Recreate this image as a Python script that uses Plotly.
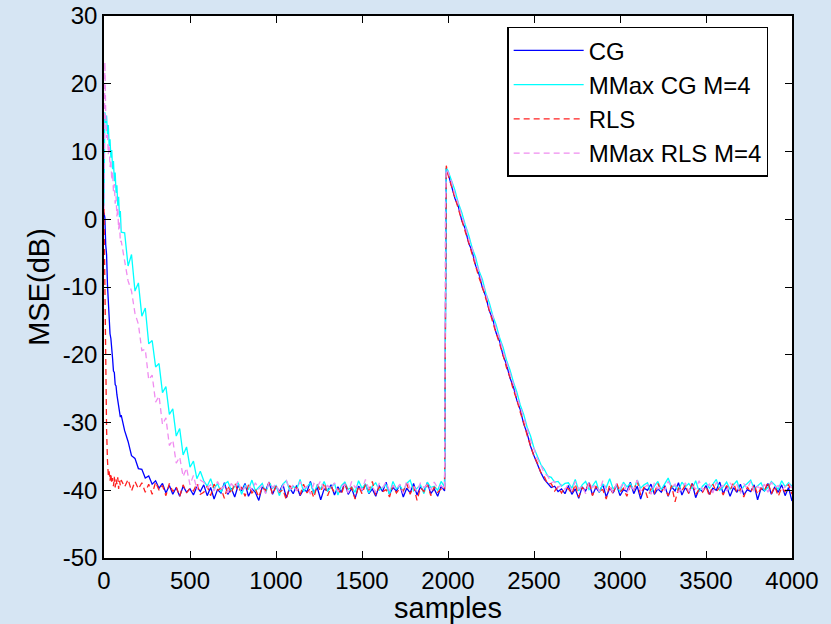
import plotly.graph_objects as go

# sample index grid (dense at the start, around the change at n~1985)
SAMPLES = (list(range(0, 101, 5)) + list(range(120, 1981, 20)) + [1985, 1990, 2000]
           + list(range(2020, 4001, 20)))

# ---------------- CG (blue) ----------------
cg_start = [1.0, 0.2, -3.8, -5.2, -9.6, -12.8, -14.2, -16.9, -17.6, -19.9, -20.6, -22.4, -22.6,
            -24.4, -24.6, -25.9, -26.6, -27.8, -28.1, -29.2, -28.9]
cg_conv = [-31.2, -32.8, -34.9, -35.3, -36.8, -36.9, -38.2, -37.9, -39.1, -38.6, -39.7, -39.0,
           -40.4, -39.3, -40.6, -39.6, -40.9, -39.4, -40.3, -39.8, -40.7, -39.5, -40.2]
cg_ss1 = [-39.2, -40.8, -39.6, -41.3, -39.9, -40.4, -38.9, -40.6, -39.7, -41.0, -39.3, -40.1, -39.0,
          -40.9, -39.8, -40.3, -41.5, -39.5, -40.0, -38.8, -40.6, -39.4, -40.2, -39.1, -41.1, -39.7,
          -40.5, -39.3, -40.8, -39.9, -40.2, -38.7, -40.4, -39.6, -41.4, -39.8, -40.1, -39.2, -40.7,
          -39.5, -40.3, -38.9, -40.6, -39.7, -41.2, -39.4, -40.0, -39.1, -40.5, -39.8, -40.9, -39.3,
          -40.2, -38.8, -40.6, -39.6, -40.1, -39.2, -41.0, -39.7, -40.4, -39.0, -40.7, -39.5, -40.2,
          -38.9, -40.5, -39.8, -40.9, -39.4, -40.1]
cg_jump = [2.0, 7.5, 6.8]
cg_track = [5.0, 3.1, 1.9, -0.2, -1.4, -3.5, -4.7, -6.8, -8.1, -10.1, -11.4, -13.5, -14.7, -16.8,
            -18.0, -20.1, -21.4, -23.4, -24.7, -26.7, -28.1, -30.2, -31.6, -33.5, -34.9, -36.3,
            -37.4, -38.4, -39.0, -39.6, -39.4, -40.2, -39.8, -40.5]
cg_ss2 = [-39.3, -40.6, -39.8, -41.2, -39.5, -40.1, -38.9, -40.7, -39.6, -40.3, -39.1, -41.0, -39.7,
          -40.4, -39.2, -40.8, -39.9, -40.2, -38.8, -40.5, -39.4, -41.3, -39.7, -40.0, -39.1, -40.6,
          -39.8, -40.3, -39.3, -40.9, -39.5, -40.1, -38.9, -40.7, -39.6, -40.4, -39.0, -41.1, -39.8,
          -40.2, -39.3, -40.6, -39.7, -40.0, -38.8, -40.5, -39.4, -40.9, -39.6, -40.3, -39.1, -40.7,
          -39.9, -40.2, -39.2, -41.4, -39.7, -40.1, -39.0, -40.6, -39.5, -40.3, -39.2, -40.8, -39.6,
          -41.6]

# ---------------- MMax CG M=4 (cyan) ----------------
mcg_start = [2.0, 15.8, 14.2, 15.3, 12.6, 13.9, 10.8, 11.8, 9.1, 10.2, 7.4, 8.6, 5.6, 6.9, 3.9, 5.0,
             2.0, 3.3, 0.3, 1.2, -1.9]
mcg_conv = [-2.0, -6.9, -5.2, -10.6, -9.4, -14.3, -13.1, -18.4, -17.9, -21.8, -21.3, -25.6, -24.7,
            -28.8, -28.0, -32.0, -30.9, -34.8, -33.6, -36.6, -35.7, -38.3, -37.2]
mcg_ss1 = [-38.6, -39.4, -38.3, -39.8, -39.0, -40.3, -39.1, -38.7, -40.0, -39.5, -38.9, -40.6, -39.2,
           -39.9, -38.5, -40.1, -39.6, -39.0, -40.4, -38.8, -39.7, -39.3, -40.8, -39.1, -38.6, -40.0,
           -39.4, -39.9, -38.4, -40.2, -39.5, -38.9, -40.5, -39.2, -39.8, -38.7, -40.1, -39.6, -39.0,
           -40.7, -39.3, -38.8, -39.9, -39.5, -40.3, -38.6, -39.7, -39.1, -40.4, -39.4, -38.9, -40.0,
           -39.6, -39.2, -40.6, -38.7, -39.8, -39.3, -40.2, -39.0, -38.5, -40.1, -39.7, -39.2, -40.5,
           -38.8, -39.6, -39.4, -40.0, -38.7, -39.5]
mcg_jump = [2.2, 7.6, 7.2]
mcg_track = [5.9, 4.3, 2.4, 1.0, -0.8, -2.3, -4.2, -5.6, -7.6, -8.9, -10.9, -12.3, -14.2, -15.6,
             -17.5, -18.9, -20.8, -22.2, -24.0, -25.5, -27.4, -28.8, -30.7, -32.0, -33.8, -34.9,
             -36.2, -36.9, -37.9, -38.1, -38.8, -38.7, -39.4, -39.0]
mcg_ss2 = [-38.9, -39.7, -38.4, -40.1, -39.2, -38.7, -39.9, -39.4, -38.6, -40.3, -39.1, -39.6, -38.3,
           -39.8, -39.3, -40.2, -38.8, -39.5, -39.0, -40.0, -38.5, -39.7, -39.2, -38.9, -40.4, -39.4,
           -38.7, -39.9, -39.1, -38.2, -39.6, -39.3, -40.1, -38.8, -39.5, -39.0, -39.8, -38.6, -40.2,
           -39.4, -38.9, -39.7, -39.1, -38.4, -40.0, -39.5, -38.8, -39.9, -39.2, -38.6, -40.3, -39.4,
           -39.0, -38.5, -39.8, -39.3, -38.9, -40.1, -39.6, -38.7, -39.2, -39.9, -38.6, -39.5, -38.9,
           -39.4]

# ---------------- RLS (red, dashed) ----------------
rls_start = [1.5, -12.0, -24.0, -31.0, -35.5, -37.8, -37.2, -38.6, -37.5, -39.0, -38.2, -39.4, -38.0,
             -39.6, -38.4, -39.1, -38.1, -39.8, -38.6, -39.3, -38.5]
rls_conv = [-39.5, -38.4, -40.1, -38.7, -39.8, -38.9, -40.3, -39.1, -40.6, -38.8, -40.0, -39.3, -40.8,
            -39.0, -40.2, -39.5, -40.9, -39.2, -40.4, -39.7, -40.1, -39.0, -40.6]
rls_ss1 = [-40.3, -39.4, -40.8, -39.1, -40.0, -39.7, -41.2, -39.3, -40.5, -38.9, -40.2, -39.6, -40.9,
           -39.2, -40.4, -39.8, -41.0, -39.5, -40.1, -38.8, -40.6, -39.4, -40.3, -39.9, -41.4, -39.3,
           -40.0, -39.6, -40.7, -39.1, -40.4, -39.7, -41.1, -39.2, -40.2, -38.9, -40.8, -39.5, -40.3,
           -39.8, -40.6, -39.0, -40.1, -39.6, -41.3, -39.4, -40.5, -39.2, -40.0, -38.7, -40.7, -39.5,
           -40.2, -39.9, -41.0, -39.3, -40.4, -39.7, -40.1, -39.0, -40.6, -39.4, -41.5, -39.6, -40.2,
           -39.1, -40.8, -39.5, -40.3, -39.8, -40.0]
rls_jump = [1.8, 7.9, 6.6]
rls_track = [4.9, 3.0, 1.6, -0.3, -1.8, -3.4, -5.2, -6.7, -8.6, -10.0, -11.9, -13.4, -15.2, -16.7,
             -18.5, -20.0, -21.9, -23.3, -25.2, -26.6, -28.5, -30.0, -31.9, -33.3, -35.0, -36.0,
             -37.4, -38.0, -39.1, -39.0, -40.1, -39.5, -40.4, -39.6]
rls_ss2 = [-39.8, -40.5, -39.1, -41.0, -39.6, -40.2, -38.7, -40.8, -39.4, -40.1, -39.9, -41.3, -39.2,
           -40.6, -38.9, -40.3, -39.7, -40.9, -39.3, -40.0, -38.6, -40.7, -39.5, -41.1, -39.8, -40.4,
           -39.0, -40.2, -39.6, -40.8, -39.3, -41.7, -39.7, -40.1, -39.2, -40.5, -38.8, -40.6, -39.9,
           -40.3, -39.4, -40.9, -39.1, -40.2, -39.6, -40.7, -39.3, -40.0, -38.9, -40.4, -39.8, -41.0,
           -39.5, -40.3, -39.2, -40.6, -39.7, -40.1, -38.8, -40.5, -39.4, -40.9, -39.6, -40.2, -39.1,
           -40.6]

# ---------------- MMax RLS M=4 (pink, dashed) ----------------
mrls_start = [1.5, 23.2, 15.5, 12.0, 12.8, 9.6, 10.9, 7.7, 8.8, 5.8, 7.0, 4.1, 5.2, 2.3, 3.4, 0.4,
              1.6, -1.5, -0.3, -3.4, -3.2]
mrls_conv = [-5.9, -9.1, -10.6, -13.9, -15.5, -19.4, -19.2, -23.7, -23.0, -27.0, -26.1, -30.3, -29.3,
             -33.4, -32.6, -36.0, -35.1, -38.0, -36.7, -39.2, -37.8, -39.9, -38.5]
mrls_ss1 = [-38.8, -39.6, -39.2, -40.1, -38.7, -39.8, -39.4, -40.4, -39.0, -39.7, -38.6, -40.2, -39.5,
            -39.1, -40.0, -38.9, -39.8, -39.3, -40.5, -38.8, -39.6, -39.1, -40.3, -39.4, -38.5, -39.9,
            -39.2, -40.1, -38.7, -39.7, -39.4, -40.6, -39.0, -39.5, -38.6, -40.0, -39.3, -39.8, -38.9,
            -40.2, -39.5, -39.1, -40.4, -38.7, -39.6, -39.2, -40.0, -38.4, -39.8, -39.5, -40.3, -39.0,
            -39.6, -38.8, -40.1, -39.3, -39.9, -39.1, -40.5, -38.6, -39.7, -39.4, -40.2, -38.9, -39.6,
            -39.2, -40.0, -38.8, -39.7, -39.3, -39.9]
mrls_jump = [2.0, 7.4, 7.0]
mrls_track = [5.6, 3.7, 2.3, 0.4, -1.0, -2.9, -4.3, -6.2, -7.7, -9.5, -11.0, -12.9, -14.3, -16.2,
              -17.6, -19.5, -21.0, -22.8, -24.3, -26.1, -27.6, -29.4, -30.9, -32.7, -33.9, -35.4,
              -36.3, -37.5, -37.9, -38.9, -38.7, -39.6, -39.2, -39.9]
mrls_ss2 = [-39.1, -40.0, -38.7, -39.8, -39.4, -40.5, -38.9, -39.6, -39.2, -40.2, -38.6, -39.9, -39.5,
            -40.3, -39.0, -39.7, -38.8, -40.4, -39.3, -39.9, -38.5, -40.1, -39.6, -39.2, -40.6, -38.9,
            -39.8, -39.4, -40.0, -38.7, -39.5, -39.1, -40.3, -39.7, -38.9, -40.2, -39.3, -39.8, -38.6,
            -40.0, -39.5, -39.1, -40.4, -38.8, -39.7, -39.3, -40.1, -38.9, -39.6, -39.2, -40.5, -39.0,
            -39.8, -38.7, -40.2, -39.4, -39.9, -39.1, -40.3, -38.8, -39.6, -39.3, -40.0, -39.5, -38.9,
            -39.7]

CG = cg_start + cg_conv + cg_ss1 + cg_jump + cg_track + cg_ss2
MMAX_CG = mcg_start + mcg_conv + mcg_ss1 + mcg_jump + mcg_track + mcg_ss2
RLS = rls_start + rls_conv + rls_ss1 + rls_jump + rls_track + rls_ss2
MMAX_RLS = mrls_start + mrls_conv + mrls_ss1 + mrls_jump + mrls_track + mrls_ss2
for name, s in [("CG", CG), ("MMAX_CG", MMAX_CG), ("RLS", RLS), ("MMAX_RLS", MMAX_RLS)]:
    assert len(s) == len(SAMPLES), (name, len(s), len(SAMPLES))

NAMES = ["CG", "MMax CG M=4", "RLS", "MMax RLS M=4"]
COLORS = ["#0000ff", "#00ffff", "#ff2020", "#f08cf0"]
DASHES = ["solid", "solid", "6px,4px", "6px,4px"]
X_TICKS = [0, 500, 1000, 1500, 2000, 2500, 3000, 3500, 4000]
X_TICK_LABELS = ["0", "500", "1000", "1500", "2000", "2500", "3000", "3500", "4000"]
Y_TICKS = [-50, -40, -30, -20, -10, 0, 10, 20, 30]
Y_TICK_LABELS = ["-50", "-40", "-30", "-20", "-10", "0", "10", "20", "30"]

fig = go.Figure()
for name, ys, col, dash in zip(NAMES, [CG, MMAX_CG, RLS, MMAX_RLS], COLORS, DASHES):
    fig.add_trace(go.Scatter(x=SAMPLES, y=ys, mode="lines", name=name,
                             line=dict(color=col, width=1.3, dash=dash)))

font = dict(family="Liberation Sans, Arial, sans-serif", size=24, color="#000000")
fig.update_layout(
    width=831, height=624,
    margin=dict(l=104, r=39, t=16, b=66, autoexpand=False),
    paper_bgcolor="#d6e5f3",
    plot_bgcolor="#ffffff",
    font=font,
    showlegend=True,
    legend=dict(x=0.586, y=0.98, xanchor="left", yanchor="top",
                bgcolor="#ffffff", bordercolor="#000000", borderwidth=1.5,
                font=font, itemwidth=70, tracegroupgap=0),
)
fig.update_xaxes(range=[0, 4000], tickvals=X_TICKS, ticktext=X_TICK_LABELS, ticks="inside",
                 ticklen=7, tickcolor="#000000", showline=True, linecolor="#000000", linewidth=1.5,
                 mirror="allticks", showgrid=False, zeroline=False, automargin=False,
                 title=dict(text="samples", standoff=2), tickfont=font)
fig.update_yaxes(range=[-50, 30], tickvals=Y_TICKS, ticktext=Y_TICK_LABELS, ticks="inside",
                 ticklen=7, tickcolor="#000000", showline=True, linecolor="#000000", linewidth=1.5,
                 mirror="allticks", showgrid=False, zeroline=False, automargin=False,
                 title=dict(text="MSE(dB)", standoff=5), tickfont=font)

POST = ("document.body.style.margin='0';document.body.style.padding='0';"
        "var gd=document.getElementById('{plot_id}');gd.style.position='absolute';"
        "gd.style.left='0px';gd.style.top='0px';")
fig.write_html("out.html", post_script=POST, config={"displayModeBar": False})
